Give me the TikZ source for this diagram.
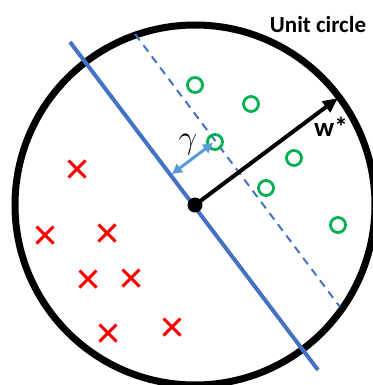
\documentclass[tikz,border=0pt]{standalone}
\usepackage{fontspec}
\setmainfont{Carlito}
\usetikzlibrary{arrows.meta,positioning}
\definecolor{sepblue}{RGB}{68,114,196}
\definecolor{gapblue}{RGB}{91,155,213}
\definecolor{posgreen}{RGB}{0,176,80}
\definecolor{negred}{RGB}{255,0,0}

\begin{document}
\begin{tikzpicture}[x=1pt,y=-1pt,
		lbl/.style={font=\fontsize{23}{26}\selectfont\bfseries}]
			\useasboundingbox (0,0) rectangle (372,385);
			\coordinate (o) at (195,205);
			\coordinate (w) at (338,98);
			\coordinate (g) at (213,143);
			\coordinate (f) at (172,174);
			% unit circle and separators
			\draw[line width=7pt] (o) circle (180pt);
			\draw[sepblue,line width=4pt] (70,42) -- (318,370);
			\draw[sepblue,line width=2pt,dash pattern=on 8pt off 6pt] (135,34) -- (340,307);
			% points
			\foreach \x/\y in {195/85,251/104,215/142,294/158,266/188,338/225}
				\draw[posgreen,line width=2.8pt] (\x,\y) circle (7.5pt);
			\foreach \x/\y in {77/169,45/235,107/233,88/279,131/278,108/333,172/327}
				\draw[negred,line width=3pt] (\x-8.5,\y-8.5) -- (\x+8.5,\y+8.5) (\x-8.5,\y+8.5) -- (\x+8.5,\y-8.5);
			% w* and margin
			\draw[line width=4pt,-{Triangle[length=15pt,width=13pt]}] (o) -- (w);
			\draw[gapblue,line width=3pt,{Triangle[length=10pt,width=10pt]}-{Triangle[length=10pt,width=10pt]}] (g) -- (f);
			\fill (o) circle (7.5pt);
			\node[lbl] (uc) at (318,25) {Unit circle};
			\node[lbl,font=\fontsize{27}{30}\selectfont\bfseries] (wl) at (331,127) {w*};
			\node[font=\fontsize{20}{24}\selectfont,scale=1.6] (gl) at (188,145) {$\gamma$};
		\end{tikzpicture}
\end{document}
